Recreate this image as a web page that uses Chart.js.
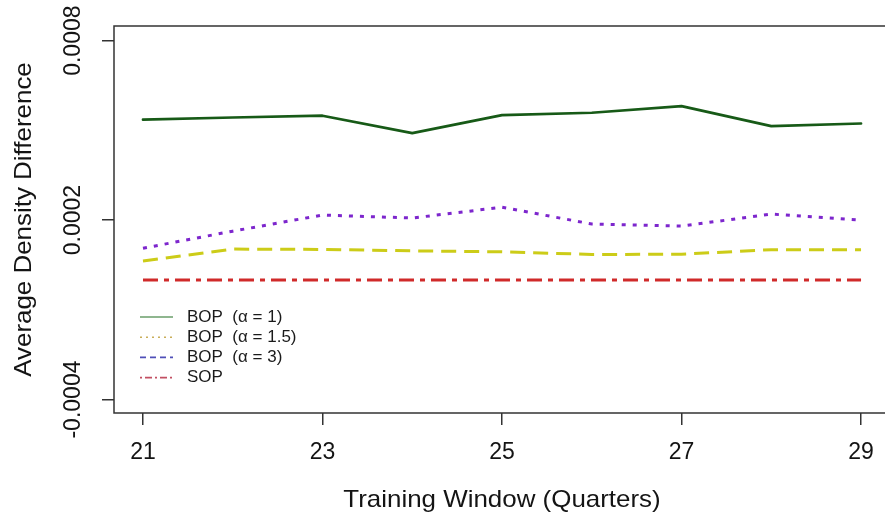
<!DOCTYPE html>
<html>
<head>
<meta charset="utf-8">
<script src="https://cdn.jsdelivr.net/npm/chart.js@4.4.1/dist/chart.umd.min.js"></script>
<style>
  html, body { margin: 0; padding: 0; background: #fff; overflow: hidden; }
  canvas { display: block; }
</style>
</head>
<body>
<canvas id="chart" width="885" height="524"></canvas>
<script>
// Training window length (quarters) on the x axis
const trainingWindows = [21, 22, 23, 24, 25, 26, 27, 28, 29];

// Average density difference per model
const bopAlpha1  = [0.000536, 0.000543, 0.000549, 0.000491, 0.000551, 0.000559, 0.000581, 0.000514, 0.000523];
const bopAlpha15 = [0.000063, 0.000103, 0.000102, 0.000097, 0.000094, 0.000085, 0.000086, 0.000101, 0.000101];
const bopAlpha3  = [0.000106, 0.000163, 0.000217, 0.000207, 0.000243, 0.000187, 0.000180, 0.000220, 0.000200];
const sop        = [0, 0, 0, 0, 0, 0, 0, 0, 0];

// Axis ticks and labels
const xTickValues = [21, 23, 25, 27, 29];
const yTickValues = [-0.0004, 0.0002, 0.0008];
const yTickLabels = ['-0.0004', '0.0002', '0.0008'];
const xTitle = 'Training Window (Quarters)';
const yTitle = 'Average Density Difference';
const legendLabels = ['BOP  (\u03B1 = 1)', 'BOP  (\u03B1 = 1.5)', 'BOP  (\u03B1 = 3)', 'SOP'];

const FONT = '"Liberation Sans", Arial, Helvetica, sans-serif';

const points = vals => vals.map((v, i) => ({ x: trainingWindows[i], y: v }));

// Legend key styles (thin keys, as drawn by the legend box)
const legendStyles = [
  { color: '#6a9e6a', dash: [] },
  { color: '#c9ae5a', dash: [2, 4] },
  { color: '#4f4fb8', dash: [6, 4] },
  { color: '#c25063', dash: [2, 3, 7, 3] }
];

// Draws the plot frame (its right side runs off the canvas), tick labels,
// axis titles and the legend
const frameAndText = {
  id: 'frameAndText',
  afterDraw(chart) {
    const { ctx, chartArea: a, scales: { x, y } } = chart;
    ctx.save();
    ctx.strokeStyle = '#333';
    ctx.lineWidth = 1.5;
    ctx.beginPath();
    ctx.moveTo(a.right + 2, a.top);
    ctx.lineTo(a.left, a.top);
    ctx.lineTo(a.left, a.bottom);
    ctx.lineTo(a.right + 2, a.bottom);
    ctx.stroke();

    ctx.fillStyle = '#141414';
    ctx.textAlign = 'center';
    ctx.textBaseline = 'middle';

    // x tick labels
    ctx.font = '23px ' + FONT;
    xTickValues.forEach(v => {
      ctx.fillText(String(v), x.getPixelForValue(v), a.bottom + 40);
    });

    // y tick labels, rotated
    yTickValues.forEach((v, i) => {
      ctx.save();
      ctx.translate(a.left - 40, y.getPixelForValue(v));
      ctx.rotate(-Math.PI / 2);
      ctx.fillText(yTickLabels[i], 0, 0);
      ctx.restore();
    });

    // axis titles, centred on the tick span
    const midX = (x.getPixelForValue(xTickValues[0]) + x.getPixelForValue(xTickValues[xTickValues.length - 1])) / 2;
    ctx.font = '24px ' + FONT;
    ctx.save();
    ctx.translate(midX, a.bottom + 87);
    ctx.scale(1.08, 1);
    ctx.fillText(xTitle, 0, 0);
    ctx.restore();

    ctx.save();
    ctx.translate(a.left - 90, (a.top + a.bottom) / 2);
    ctx.rotate(-Math.PI / 2);
    ctx.scale(1.08, 1);
    ctx.fillText(yTitle, 0, 0);
    ctx.restore();

    // legend
    ctx.font = '17px ' + FONT;
    ctx.textAlign = 'left';
    const lx0 = a.left + 26, lx1 = a.left + 59, tx = a.left + 73;
    legendLabels.forEach((label, i) => {
      const ly = a.top + 291 + i * 20.2;
      const st = legendStyles[i];
      ctx.strokeStyle = st.color;
      ctx.lineWidth = 1.6;
      ctx.setLineDash(st.dash);
      ctx.beginPath();
      ctx.moveTo(lx0, ly);
      ctx.lineTo(lx1, ly);
      ctx.stroke();
      ctx.setLineDash([]);
      ctx.fillStyle = '#1a1a1a';
      ctx.fillText(label, tx, ly);
    });
    ctx.restore();
  }
};

const axisGrid = {
  drawOnChartArea: false,
  drawTicks: true,
  tickLength: 12,
  tickColor: '#333',
  lineWidth: 1.5
};

new Chart(document.getElementById('chart'), {
  type: 'line',
  data: {
    datasets: [
      {
        label: legendLabels[0],
        data: points(bopAlpha1),
        borderColor: '#175a17',
        borderWidth: 2.7,
        borderCapStyle: 'round',
        borderJoinStyle: 'round'
      },
      {
        label: legendLabels[1],
        data: points(bopAlpha15),
        borderColor: '#cccc18',
        borderWidth: 3,
        borderDash: [15, 8],
        borderCapStyle: 'butt'
      },
      {
        label: legendLabels[2],
        data: points(bopAlpha3),
        borderColor: '#7d26cd',
        borderWidth: 3,
        borderDash: [4, 7],
        borderCapStyle: 'butt'
      },
      {
        label: legendLabels[3],
        data: points(sop),
        borderColor: '#d02a2a',
        borderWidth: 3,
        borderDash: [15, 6, 5, 6],
        borderCapStyle: 'butt'
      }
    ]
  },
  options: {
    responsive: false,
    animation: false,
    devicePixelRatio: 1,
    layout: { padding: { left: 102, top: 26, right: 0, bottom: 99 } },
    elements: {
      point: { radius: 0 },
      line: { tension: 0, fill: false }
    },
    plugins: {
      legend: { display: false },
      tooltip: { enabled: false }
    },
    scales: {
      x: {
        type: 'linear',
        min: 20.677,
        max: 29.267,
        afterBuildTicks: s => { s.ticks = xTickValues.map(v => ({ value: v })); },
        grid: axisGrid,
        border: { display: false },
        ticks: { display: false }
      },
      y: {
        type: 'linear',
        min: -0.000445,
        max: 0.000849,
        afterBuildTicks: s => { s.ticks = yTickValues.map(v => ({ value: v })); },
        grid: axisGrid,
        border: { display: false },
        ticks: { display: false }
      }
    }
  },
  plugins: [frameAndText]
});
</script>
</body>
</html>
